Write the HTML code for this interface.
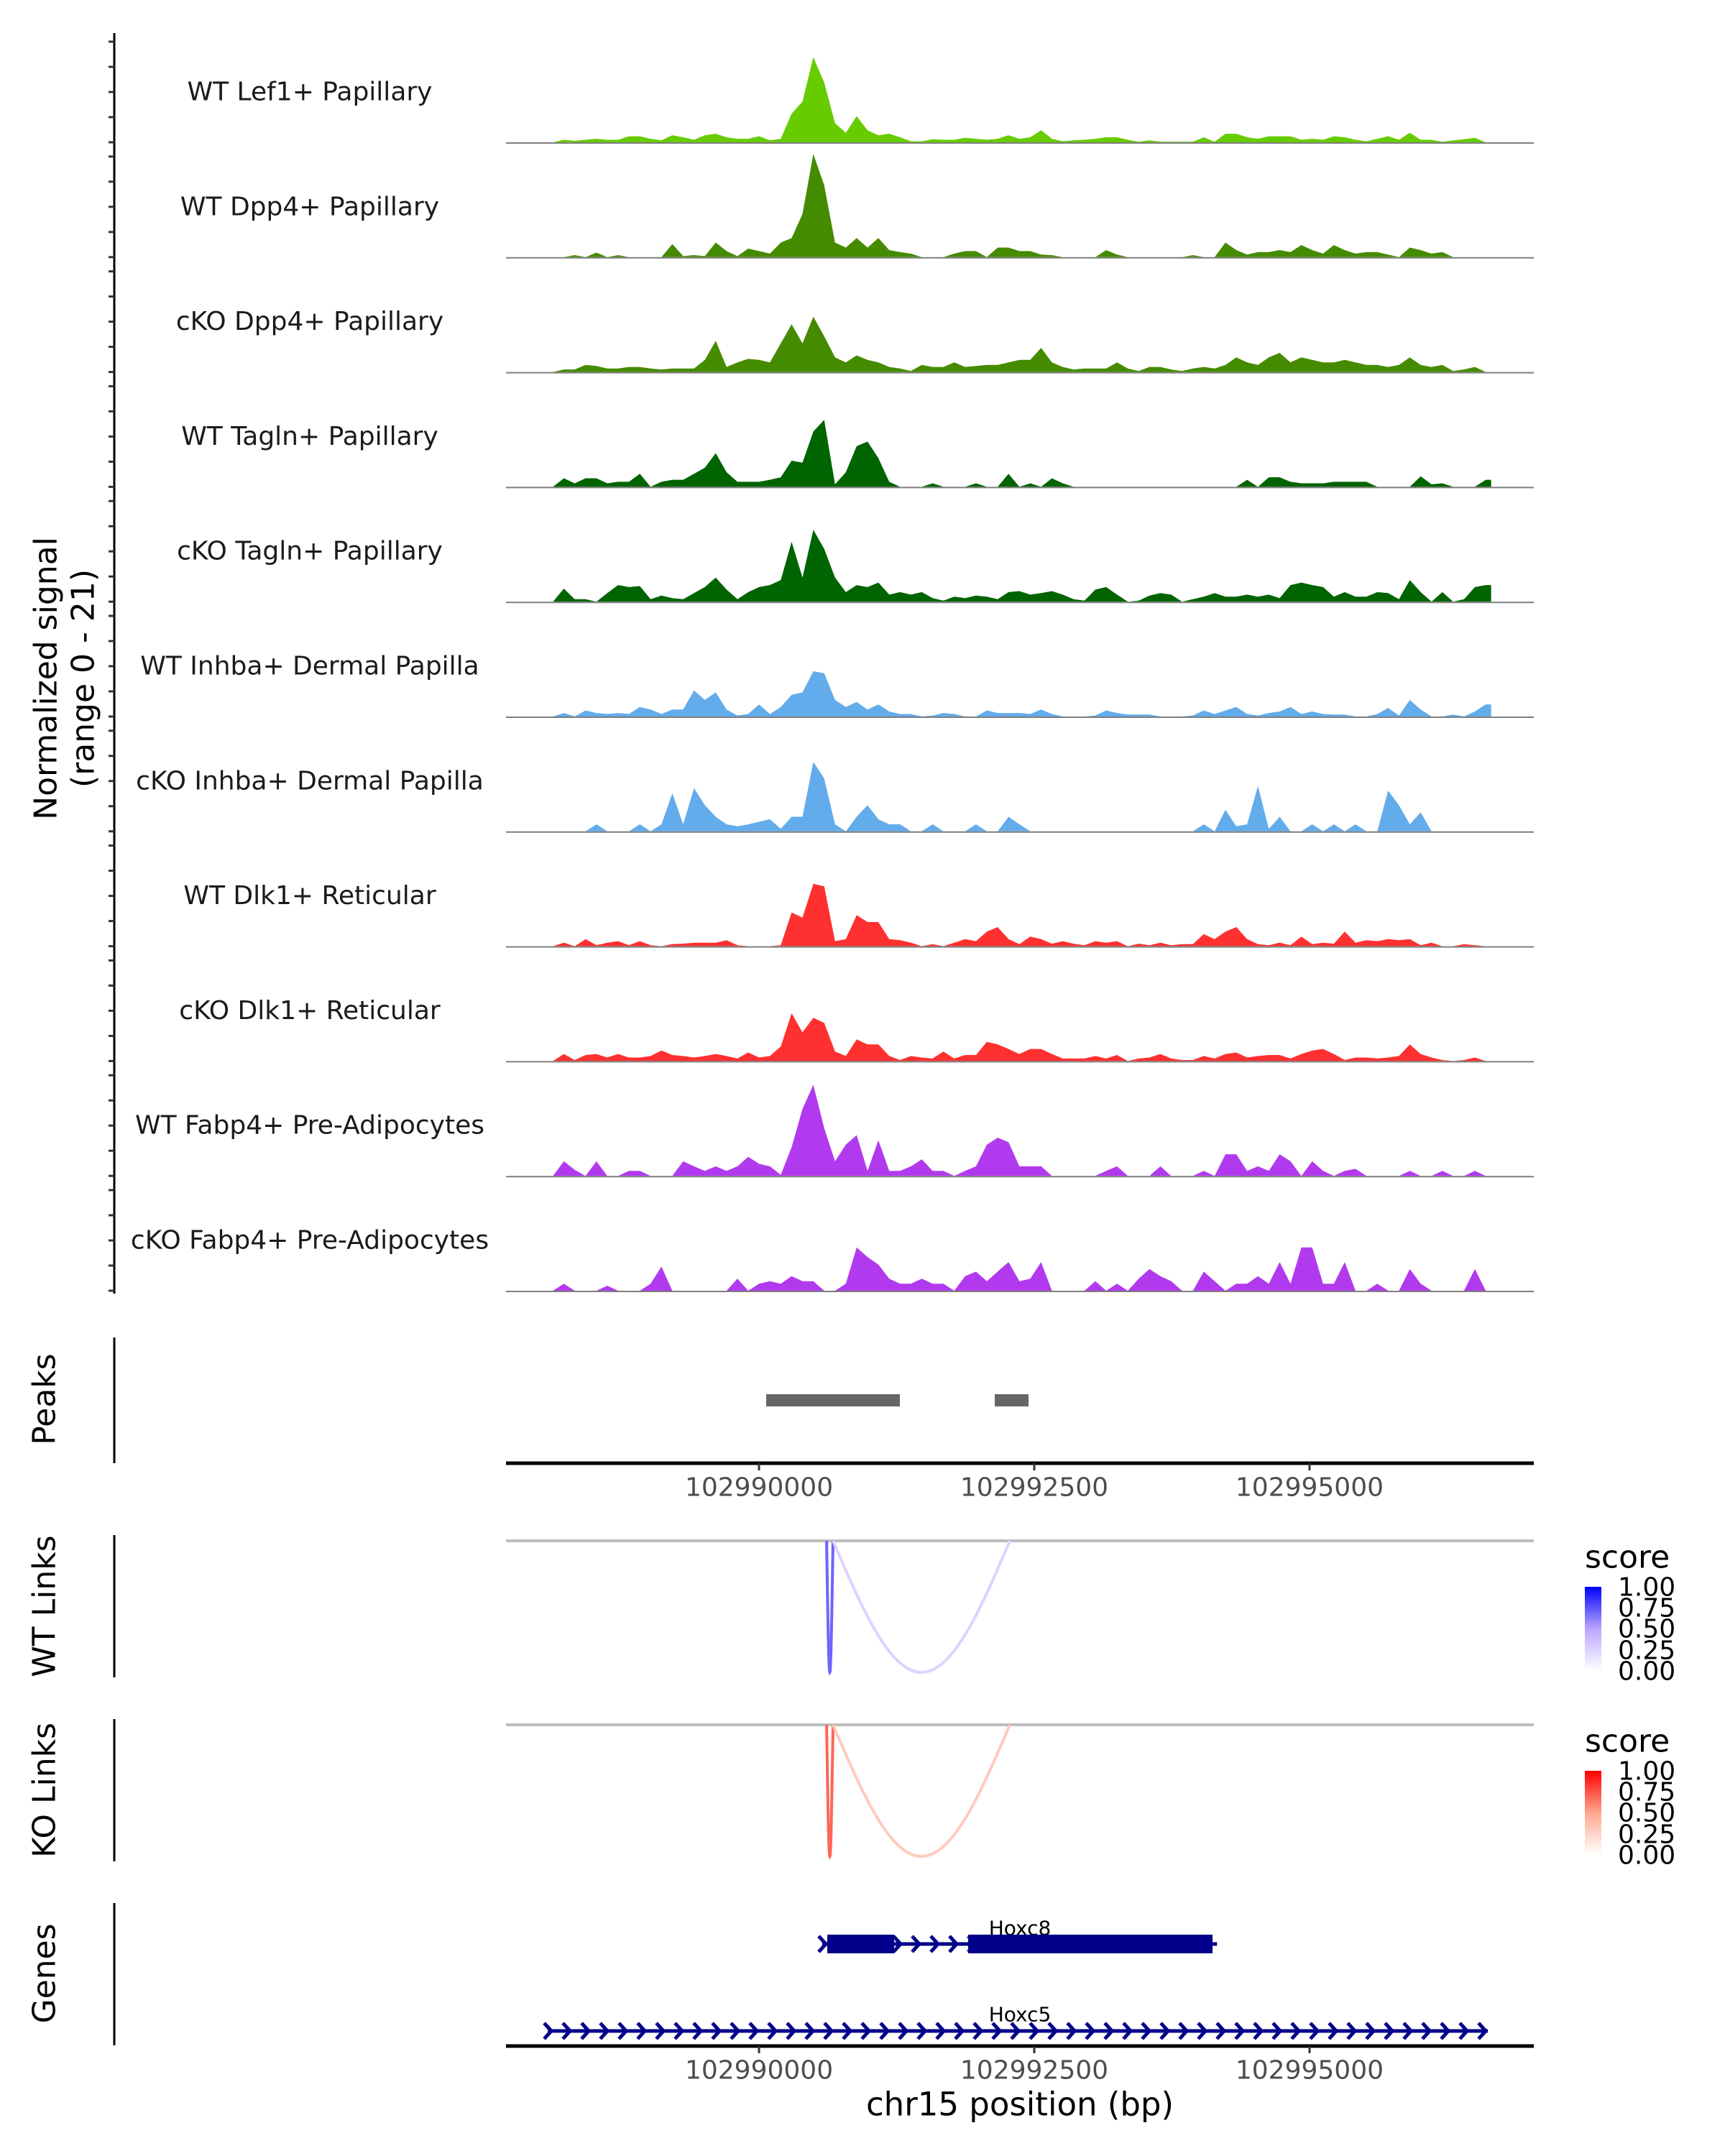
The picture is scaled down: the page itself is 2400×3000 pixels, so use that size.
<!DOCTYPE html>
<html><head><meta charset="utf-8"><style>
html,body{margin:0;padding:0;background:#fff}
svg{display:block;font-family:"DejaVu Sans","Liberation Sans",sans-serif}
</style></head><body>
<svg id="chart" width="2400" height="3000" viewBox="0 0 2400 3000" xmlns="http://www.w3.org/2000/svg">
<rect width="2400" height="3000" fill="#fff"/>
<g id="tracks"></g>
<g id="yaxis">
<line x1="159" y1="46" x2="159" y2="1800" stroke="#000" stroke-width="3"/>
</g>
<text transform="translate(64,944) rotate(-90)" text-anchor="middle" dominant-baseline="central" font-size="44" fill="#000">Normalized signal</text>
<text transform="translate(116,944) rotate(-90)" text-anchor="middle" dominant-baseline="central" font-size="44" fill="#000">(range 0 - 21)</text>

<line x1="159" y1="1861" x2="159" y2="2036" stroke="#000" stroke-width="3"/>
<text transform="translate(62,1947) rotate(-90)" text-anchor="middle" dominant-baseline="central" font-size="44">Peaks</text>
<g id="peaks"></g>
<line x1="704" y1="2036" x2="2134" y2="2036" stroke="#000" stroke-width="5"/>
<g id="xticks1"></g>

<line x1="159" y1="2136" x2="159" y2="2334" stroke="#000" stroke-width="3"/>
<text transform="translate(62,2235) rotate(-90)" text-anchor="middle" dominant-baseline="central" font-size="44">WT Links</text>
<line x1="704" y1="2144" x2="2134" y2="2144" stroke="#bebebe" stroke-width="4"/>
<g id="wtlinks"></g>

<line x1="159" y1="2392" x2="159" y2="2590" stroke="#000" stroke-width="3"/>
<text transform="translate(62,2491) rotate(-90)" text-anchor="middle" dominant-baseline="central" font-size="44">KO Links</text>
<line x1="704" y1="2400" x2="2134" y2="2400" stroke="#bebebe" stroke-width="4"/>
<g id="kolinks"></g>

<defs>
<linearGradient id="gblue" x1="0" y1="1" x2="0" y2="0"><stop offset="0" stop-color="#ffffff"/><stop offset="0.5" stop-color="#b9a6ff"/><stop offset="1" stop-color="#0000ff"/></linearGradient>
<linearGradient id="gred" x1="0" y1="1" x2="0" y2="0"><stop offset="0" stop-color="#ffffff"/><stop offset="0.5" stop-color="#ffa890"/><stop offset="1" stop-color="#ff0000"/></linearGradient>
</defs>
<g>
<text x="2205" y="2167" dominant-baseline="central" font-size="44">score</text>
<rect x="2205" y="2208" width="23" height="117" fill="url(#gblue)"/>
<g font-size="36">
<text x="2251" y="2209" dominant-baseline="central">1.00</text>
<text x="2251" y="2238" dominant-baseline="central">0.75</text>
<text x="2251" y="2267" dominant-baseline="central">0.50</text>
<text x="2251" y="2297" dominant-baseline="central">0.25</text>
<text x="2251" y="2326" dominant-baseline="central">0.00</text>
</g></g>
<g>
<text x="2205" y="2423" dominant-baseline="central" font-size="44">score</text>
<rect x="2205" y="2464" width="23" height="117" fill="url(#gred)"/>
<g font-size="36">
<text x="2251" y="2465" dominant-baseline="central">1.00</text>
<text x="2251" y="2494" dominant-baseline="central">0.75</text>
<text x="2251" y="2523" dominant-baseline="central">0.50</text>
<text x="2251" y="2553" dominant-baseline="central">0.25</text>
<text x="2251" y="2582" dominant-baseline="central">0.00</text>
</g></g>

<line x1="159" y1="2648" x2="159" y2="2846" stroke="#000" stroke-width="3"/>
<text transform="translate(62,2746) rotate(-90)" text-anchor="middle" dominant-baseline="central" font-size="44">Genes</text>
<g id="genes"></g>
<line x1="704" y1="2847" x2="2134" y2="2847" stroke="#000" stroke-width="5"/>
<g id="xticks2"></g>
<text x="1419" y="2928" text-anchor="middle" dominant-baseline="central" font-size="45">chr15 position (bp)</text>
</svg>
<script>
// ---- data ----
const trackNames = ["WT Lef1+ Papillary","WT Dpp4+ Papillary","cKO Dpp4+ Papillary","WT Tagln+ Papillary","cKO Tagln+ Papillary","WT Inhba+ Dermal Papilla","cKO Inhba+ Dermal Papilla","WT Dlk1+ Reticular","cKO Dlk1+ Reticular","WT Fabp4+ Pre-Adipocytes","cKO Fabp4+ Pre-Adipocytes"];
const trackColors = ["#66cc00","#458b00","#458b00","#006400","#006400","#63acec","#63acec","#ff3030","#ff3030","#b23aee","#b23aee"];
const binStart = 102988080;
const binSize = 98.5;
const yMax = 21;
const yTicks = [0,5,10,15,20];
const sigLef1WT = [0,0.5,0.3,0.5,0.7,0.5,0.5,1.2,1.2,0.7,0.4,1.4,1,0.5,1.4,1.7,1,0.7,0.7,1.2,0.4,0.7,5.7,8.1,16.9,11.9,3.8,1.9,5.2,2.4,1.4,1.7,1,0.2,0.2,0.6,0.5,0.5,0.9,0.7,0.5,0.7,1.4,0.7,1,2.4,0.7,0.2,0.4,0.5,0.7,1,1,0.5,0.1,0.4,0.1,0.1,0.1,0.1,1,0.1,1.7,1.7,1,0.7,1.2,1.2,1.2,0.5,0.7,0.5,1.2,1,0.5,0.2,0.7,1.2,0.5,1.9,0.5,0.5,0.1,0.4,0.6,0.9,0];
const sigDpp4WT = [0,0,0.4,0,0.9,0,0.4,0,0,0,0,2.6,0.2,0.4,0.2,2.9,1.2,0.2,1.7,1.2,0.7,2.9,3.8,8.6,20.5,14.3,2.9,1.9,3.8,1.9,3.8,1.4,1,0.7,0,0,0,0.7,1.2,1.2,0,1.9,1.9,1.2,1.2,0.5,0.4,0,0,0,0,1.4,0.5,0,0,0,0,0,0,0.4,0,0,2.9,1.4,0.5,1,1,1.4,1,2.4,1.4,0.7,2.4,1.4,0.7,1,1,0.5,0,1.9,1.4,0.7,1,0,0,0,0];
const sigDpp4KO = [0,0.5,0.5,1.4,1.2,0.7,0.7,1,1,0.7,0.5,0.7,0.7,0.7,2.4,6.2,1,1.9,2.6,2.4,1.9,5.7,9.5,5.7,11,7.1,2.9,1.9,3.3,2.4,1.9,1,0.7,0.2,1.4,1,1,1.9,1,1.2,1.4,1.4,1.9,2.4,2.4,4.8,1.9,1,0.5,0.7,0.7,0.7,1.9,0.7,0.2,1,1,0.5,0.2,0.7,1,0.7,1.4,2.9,1.9,1.4,2.9,3.8,1.9,2.9,2.4,1.9,1.9,2.4,1.9,1.4,1.4,1,1.4,2.9,1.4,1,1.4,0.2,0.5,1,0];
const sigTaglnWT = [0,1.7,0.7,1.7,1.7,0.7,1,1,2.6,0,1,1.4,1.4,2.6,3.8,6.7,2.9,1,1,1,1.4,1.9,5.2,4.8,11,13.3,0.5,2.9,8.1,9,5.7,1,0,0,0,0.7,0,0,0,0.7,0,0,2.6,0,0.7,0,1.7,0.7,0,0,0,0,0,0,0,0,0,0,0,0,0,0,0,0,1.4,0,1.9,1.9,1,0.7,0.7,0.7,1,1,1,1,0,0,0,0,2.1,0.5,0.7,0,0,0,1.4];
const sigTaglnKO = [0,2.6,0.5,0.5,0,1.7,3.3,2.9,3.1,0.5,1.2,0.7,0.5,1.7,2.9,4.8,2.4,0.5,1.9,2.9,3.3,4.3,11.9,4.8,14.3,10.5,4.8,1.9,3.3,2.9,3.8,1.4,1.9,1.4,1.9,0.7,0.2,1,0.7,1.2,1,0.5,1.9,2.1,1.4,1.7,2.1,1.4,0.5,0.2,2.4,2.9,1.4,0,0.2,1.2,1.7,1.4,0,0.5,1,1.7,1,1,1.4,1,1.4,0.7,3.3,3.8,3.3,2.9,1,1.9,1,1,1.9,1.7,0.5,4.3,1.9,0,1.9,0,0.5,2.9,3.3];
const sigInhbaWT = [0,0.7,0,1.2,0.7,0.5,0.7,0.5,1.9,1.4,0.5,1.4,1.4,5.2,3.3,4.8,1.4,0.2,0.5,2.4,0.5,1.9,4.3,4.8,9,8.6,3.3,1.9,2.9,1.4,2.4,1,0.5,0.5,0,0.2,0.7,0.5,0,0,1.2,0.7,0.7,0.7,0.5,1.4,0.5,0,0,0,0.2,1.2,0.7,0.4,0.4,0.4,0,0,0,0.2,1.2,0.5,1.2,1.9,0.5,0.2,0.7,1,1.9,0.5,1,0.5,0.4,0.4,0,0,0.5,1.7,0.2,3.3,1.4,0,0,0.4,0,1,2.4];
const sigInhbaKO = [0,0,0,0,1.4,0,0,0,1.4,0,1.4,7.6,1.4,8.6,5.2,2.9,1.4,1,1.4,1.9,2.4,0.5,2.9,2.9,13.8,10.5,1.4,0,2.9,5.2,2.4,1.4,1.4,0,0,1.4,0,0,0,1.4,0,0,2.9,1.4,0,0,0,0,0,0,0,0,0,0,0,0,0,0,0,0,1.4,0,4.3,1,1.4,9,0.5,2.9,0,0,1.4,0,1.4,0,1.4,0,0,8.1,5.2,1.4,3.8,0,0,0,0,0,0];
const sigDlk1WT = [0,0.7,0,1.4,0.2,0.7,1,0.2,1,0.2,0,0.4,0.5,0.7,0.7,0.7,1.2,0.2,0,0,0,0.2,6.7,5.7,12.4,11.9,1,1.4,6.2,4.8,4.8,1.4,1.2,0.7,0,0.4,0,0.7,1.4,1,2.9,3.8,1.4,0.4,1.9,1.4,0.5,1,0.5,0.2,1,0.7,1,0,0.5,0.2,0.7,0.2,0.4,0.4,2.4,1.4,2.9,3.8,1.4,0.4,0.2,0.7,0.2,1.9,0.4,0.7,0.5,2.9,0.7,1.2,1,1.4,1.2,1.4,0.2,0.7,0,0,0.4,0.2,0];
const sigDlk1KO = [0,1.4,0.2,1.2,1.4,0.7,1.4,0.7,0.7,1,2.1,1.2,1,0.7,1,1.4,1,0.5,1.7,0.7,1,2.9,9.5,5.7,8.6,7.6,1.9,1,4.3,3.3,3.3,1,0.2,1,0.7,0.5,1.9,0.5,1.2,1.2,3.8,3.3,2.4,1.4,2.4,2.4,1.4,0.5,0.5,0.5,1,0.5,1.2,0,0.5,0.7,1.4,0.5,0.2,0.2,1,0.5,1.4,1.7,0.7,1,1.2,1.2,0.5,1.4,2.1,2.4,1.4,0.2,0.7,0.7,0.5,0.7,1,3.3,1.4,0.7,0.2,0,0.2,0.7,0];
const sigFabp4WT = [0,2.9,1.2,0,2.9,0,0,1,1,0,0,0,2.9,1.9,1,1.9,1,1.9,3.8,2.4,1.9,0.2,5.7,13.3,18.1,9.5,2.9,6.2,8.1,1,7.1,1,1,1.9,3.3,1,1,0,1,1.9,6.2,7.6,6.7,1.9,1.9,1.9,0,0,0,0,0,1,1.9,0,0,0,1.9,0,0,0,1,0,4.3,4.3,1,1.9,1,4.3,2.9,0,2.9,1,0,1,1.4,0,0,0,0,1,0,0,1,0,0,1,0];
const sigFabp4KO = [0,1.4,0,0,0,1,0,0,0,1.4,4.8,0,0,0,0,0,0,2.4,0,1.4,1.9,1.4,2.9,1.9,1.9,0,0,1.4,8.6,6.7,5.2,2.4,1.4,1.4,2.4,1.4,1.4,0,2.9,3.8,1.9,3.8,5.7,1.9,2.4,5.7,0,0,0,0,1.9,0,1.4,0,2.4,4.3,2.9,1.9,0,0,3.8,1.9,0,1.4,1.4,2.9,1.4,5.7,1.4,8.6,8.6,1.4,1.4,5.7,0,0,1.4,0,0,4.3,1.4,0,0,0,0,4.3,0];
const peakStarts = [102990065,102992141];
const peakEnds = [102991279,102992448];
const wtLinkStarts = [102990614,102990672];
const wtLinkEnds = [102990672,102992278];
const wtLinkScores = [0.7,0.25];
const koLinkStarts = [102990614,102990672];
const koLinkEnds = [102990672,102992278];
const koLinkScores = [0.7,0.3];
const geneNames = ["Hoxc8","Hoxc5"];
const geneStarts = [102990574,102988081];
const geneEnds = [102994160,102996619];
const hoxc8ExonStarts = [102990620,102991899];
const hoxc8ExonEnds = [102991227,102994119];
const xTickValues = [102990000,102992500,102995000];
const xTickLabels = ["102990000","102992500","102995000"];

// ---- scales ----
const NS="http://www.w3.org/2000/svg";
const domain=[102987702,102997037], range=[704,2134];
function xs(bp){return range[0]+(bp-domain[0])/(domain[1]-domain[0])*(range[1]-range[0]);}
const trackH=147, baseline0=198, trackStep=159.8;
function ys(v,base){return base - v/yMax*trackH;}
function mk(tag,attrs,parent){const e=document.createElementNS(NS,tag);for(const k in attrs)e.setAttribute(k,attrs[k]);parent.appendChild(e);return e;}

const signals=[sigLef1WT,sigDpp4WT,sigDpp4KO,sigTaglnWT,sigTaglnKO,sigInhbaWT,sigInhbaKO,sigDlk1WT,sigDlk1KO,sigFabp4WT,sigFabp4KO];
const tg=document.getElementById('tracks'), ya=document.getElementById('yaxis');
signals.forEach((vals,k)=>{
  const base=baseline0+k*trackStep;
  let d='M'+xs(binStart).toFixed(1)+','+base;
  vals.forEach((v,i)=>{
    const x0=xs(binStart+i*binSize), x1=xs(binStart+(i+1)*binSize), y=ys(v,base);
    const xm=(x0+x1)/2;
    if(i===0) d+=' L'+x0.toFixed(1)+','+y.toFixed(1);
    d+=' L'+xm.toFixed(1)+','+y.toFixed(1);
    if(i===vals.length-1) d+=' L'+x1.toFixed(1)+','+y.toFixed(1);
  });
  d+=' L'+xs(binStart+vals.length*binSize).toFixed(1)+','+base+' Z';
  const p=mk('path',{d:d,fill:trackColors[k]},tg);
  
  
  const bl=mk('line',{x1:704,x2:2134,y1:base+1,y2:base+1,stroke:'#7f7f7f','stroke-width':2},tg);
  
  
  const t=mk('text',{x:431,y:base-70,'text-anchor':'middle','dominant-baseline':'central','font-size':36,fill:'#1a1a1a'},tg);
  t.textContent=trackNames[k];
  
  
  yTicks.forEach(tv=>{
    const yy=ys(tv,base);
    const tk=mk('line',{x1:151,x2:159,y1:yy,y2:yy,stroke:'#333','stroke-width':3},ya);
    
    
  });
});

// peaks
const pg=document.getElementById('peaks');
peakStarts.forEach((s,i)=>{
  const r=mk('rect',{x:xs(s),y:1940,width:xs(peakEnds[i])-xs(s),height:17,fill:'#666666'},pg);
  
  
});

// x ticks
function ticks(gid,axisY){
  const g=document.getElementById(gid);
  xTickValues.forEach((v,i)=>{
    const x=xs(v);
    const l=mk('line',{x1:x,x2:x,y1:axisY,y2:axisY+10,stroke:'#333','stroke-width':3},g);
    
    
    const t=mk('text',{x:x,y:axisY+34,'text-anchor':'middle','dominant-baseline':'central','font-size':36,fill:'#4d4d4d'},g);
    t.textContent=xTickLabels[i];
    
    
  });
}
ticks('xticks1',2036);ticks('xticks2',2847);

// links
function mix(mid,end,s){
  let a,b,t;
  if(s<0.5){a=[255,255,255];b=mid;t=s/0.5;}else{a=mid;b=end;t=(s-0.5)/0.5;}
  return 'rgb('+a.map((c,j)=>Math.round(c+(b[j]-c)*t)).join(',')+')';
}
function links(gid,starts,ends,scores,top,mid,end){
  const g=document.getElementById(gid), depth=183;
  starts.forEach((s,i)=>{
    const x0=xs(s),x1=xs(ends[i]);let d='';
    for(let j=0;j<=60;j++){const t=j/60;const x=x0+(x1-x0)*t;const y=top+depth*Math.sin(Math.PI*t);d+=(j?' L':'M')+x.toFixed(1)+','+y.toFixed(1);}
    const p=mk('path',{d:d,fill:'none',stroke:mix(mid,end,scores[i]),'stroke-width':4},g);
    
    
  });
}
links('wtlinks',wtLinkStarts,wtLinkEnds,wtLinkScores,2144,[185,166,255],[0,0,255]);
links('kolinks',koLinkStarts,koLinkEnds,koLinkScores,2400,[255,168,144],[255,0,0]);

// genes
const gg=document.getElementById('genes'), gc='#00008b';
const geneY=[2705,2826], labelY=[2683,2803];
geneNames.forEach((n,i)=>{
  const x0=xs(geneStarts[i]),x1=xs(geneEnds[i]),y=geneY[i];
  const l=mk('line',{x1:x0,x2:x1,y1:y,y2:y,stroke:gc,'stroke-width':5},gg);
  
  
  let d='';
  for(let x=x0;x<=x1-4;x+=26){d+='M'+(x-5).toFixed(1)+','+(y-11)+' L'+(x+5).toFixed(1)+','+y+' L'+(x-5).toFixed(1)+','+(y+11)+' ';}
  const a=mk('path',{d:d,fill:'none',stroke:gc,'stroke-width':5},gg);
  
  
  const t=mk('text',{x:1419,y:labelY[i],'text-anchor':'middle','dominant-baseline':'central','font-size':28,fill:'#000'},gg);
  t.textContent=n;
  
  
});
hoxc8ExonStarts.forEach((s,i)=>{
  const r=mk('rect',{x:xs(s),y:2692,width:xs(hoxc8ExonEnds[i])-xs(s),height:26,fill:gc},gg);
  
  
});
</script>
</body></html>
